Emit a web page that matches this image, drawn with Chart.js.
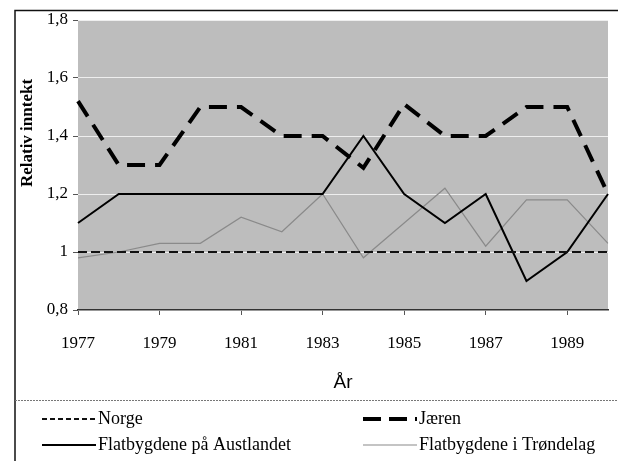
<!DOCTYPE html>
<html>
<head>
<meta charset="utf-8">
<script src="https://cdn.jsdelivr.net/npm/chart.js@4"></script>
<style>
  html, body { margin: 0; padding: 0; background: #fff; }
  #wrap { width: 618px; height: 461px; position: relative; }
</style>
</head>
<body>
<div id="wrap"><canvas id="incomeChart"></canvas></div>
<script>
// years on the category axis
const years = ['1977', '1978', '1979', '1980', '1981', '1982', '1983',
               '1984', '1985', '1986', '1987', '1988', '1989', '1990'];

// relative income per region
const norge      = [1.00, 1.00, 1.00, 1.00, 1.00, 1.00, 1.00, 1.00, 1.00, 1.00, 1.00, 1.00, 1.00, 1.00];
const jaeren     = [1.52, 1.30, 1.30, 1.50, 1.50, 1.40, 1.40, 1.29, 1.51, 1.40, 1.40, 1.50, 1.50, 1.20];
const austlandet = [1.10, 1.20, 1.20, 1.20, 1.20, 1.20, 1.20, 1.40, 1.20, 1.10, 1.20, 0.90, 1.00, 1.20];
const trondelag  = [0.98, 1.00, 1.03, 1.03, 1.12, 1.07, 1.20, 0.98, 1.10, 1.22, 1.02, 1.18, 1.18, 1.03];

const yTicks = [0.8, 1.0, 1.2, 1.4, 1.6, 1.8];

const serif = "'Liberation Serif', 'Times New Roman', serif";

// grey plot area + frame lines + legend drawn on the canvas
const framePlugin = {
    id: 'frame',
    beforeDraw(chart) {
        const { ctx, chartArea: a } = chart;
        ctx.save();
        ctx.fillStyle = '#bdbdbd';
        ctx.fillRect(a.left, a.top, a.right - a.left, a.bottom - a.top);
        ctx.restore();
    },
    afterDraw(chart) {
        const ctx = chart.ctx;
        ctx.save();
        // outer frame
        ctx.strokeStyle = '#111';
        ctx.lineWidth = 1.5;
        ctx.beginPath();
        ctx.moveTo(15, 461);
        ctx.lineTo(15, 10.5);
        ctx.lineTo(618, 10.5);
        ctx.stroke();
        // separator above the legend
        ctx.strokeStyle = '#777';
        ctx.lineWidth = 1;
        ctx.setLineDash([2, 1]);
        ctx.beginPath();
        ctx.moveTo(15, 400.5);
        ctx.lineTo(618, 400.5);
        ctx.stroke();

        // y title
        ctx.setLineDash([]);
        ctx.fillStyle = '#000';
        ctx.font = 'bold 17px ' + serif;
        ctx.textAlign = 'center';
        ctx.textBaseline = 'middle';
        ctx.translate(28, 133);
        ctx.rotate(-Math.PI / 2);
        ctx.fillText('Relativ inntekt', 0, 0);
        ctx.restore();

        // legend
        const slots = [[42, 419], [363, 419], [42, 445], [363, 445]];
        ctx.save();
        ctx.font = '18px ' + serif;
        ctx.textBaseline = 'middle';
        ctx.textAlign = 'left';
        chart.data.datasets.forEach((ds, i) => {
            const [x, y] = slots[i];
            ctx.strokeStyle = ds.borderColor;
            ctx.lineWidth = ds.borderWidth;
            ctx.setLineDash(ds.legendDash || ds.borderDash || []);
            ctx.beginPath();
            ctx.moveTo(x, y);
            ctx.lineTo(x + 54, y);
            ctx.stroke();
            ctx.fillStyle = '#000';
            ctx.fillText(ds.label, x + 56, y);
        });
        ctx.restore();
    }
};

new Chart(document.getElementById('incomeChart'), {
    type: 'line',
    data: {
        labels: years,
        datasets: [
            {
                label: 'Norge',
                data: norge,
                borderColor: '#111',
                borderWidth: 1.8,
                borderDash: [9, 4],
                legendDash: [5, 3]
            },
            {
                label: 'Jæren',
                data: jaeren,
                borderColor: '#000',
                borderWidth: 4,
                borderDash: [18, 10],
                legendDash: [18, 8]
            },
            {
                label: 'Flatbygdene på Austlandet',
                data: austlandet,
                borderColor: '#000',
                borderWidth: 2
            },
            {
                label: 'Flatbygdene i Trøndelag',
                data: trondelag,
                borderColor: '#8a8a8a',
                borderWidth: 1.2
            }
        ]
    },
    options: {
        responsive: true,
        maintainAspectRatio: false,
        animation: false,
        elements: {
            point: { radius: 0, hoverRadius: 0 },
            line: { tension: 0, borderCapStyle: 'butt', borderJoinStyle: 'miter' }
        },
        layout: { padding: { left: 15, right: 10, top: 20, bottom: 66 } },
        plugins: {
            legend: { display: false },
            tooltip: { enabled: false }
        },
        scales: {
            x: {
                type: 'category',
                offset: false,
                afterFit: (s) => { s.height = 85; },
                grid: {
                    drawOnChartArea: false,
                    drawTicks: true,
                    tickLength: 5,
                    tickColor: '#555'
                },
                border: { color: '#333', width: 1.5 },
                ticks: {
                    autoSkip: false,
                    maxRotation: 0,
                    padding: 18,
                    color: '#000',
                    font: { family: serif, size: 17 },
                    callback: function (v, i) { return i % 2 === 0 ? this.getLabelForValue(v) : null; }
                },
                title: {
                    display: true,
                    text: 'År',
                    color: '#000',
                    font: { family: "'Liberation Sans Narrow', 'Liberation Sans', sans-serif", size: 19 },
                    padding: { top: 0, bottom: 1 }
                }
            },
            y: {
                min: 0.8,
                max: 1.8,
                afterFit: (s) => { s.width = 63; },
                afterBuildTicks: (s) => { s.ticks = yTicks.map(v => ({ value: v })); },
                grid: {
                    color: 'rgba(255,255,255,0.75)',
                    lineWidth: 1,
                    tickLength: 5,
                    tickColor: '#555'
                },
                border: { display: false },
                ticks: {
                    padding: 5,
                    color: '#000',
                    font: { family: serif, size: 17 },
                    callback: (v) => String(Math.round(v * 10) / 10).replace('.', ',')
                }
            }
        }
    },
    plugins: [framePlugin]
});
</script>
</body>
</html>
